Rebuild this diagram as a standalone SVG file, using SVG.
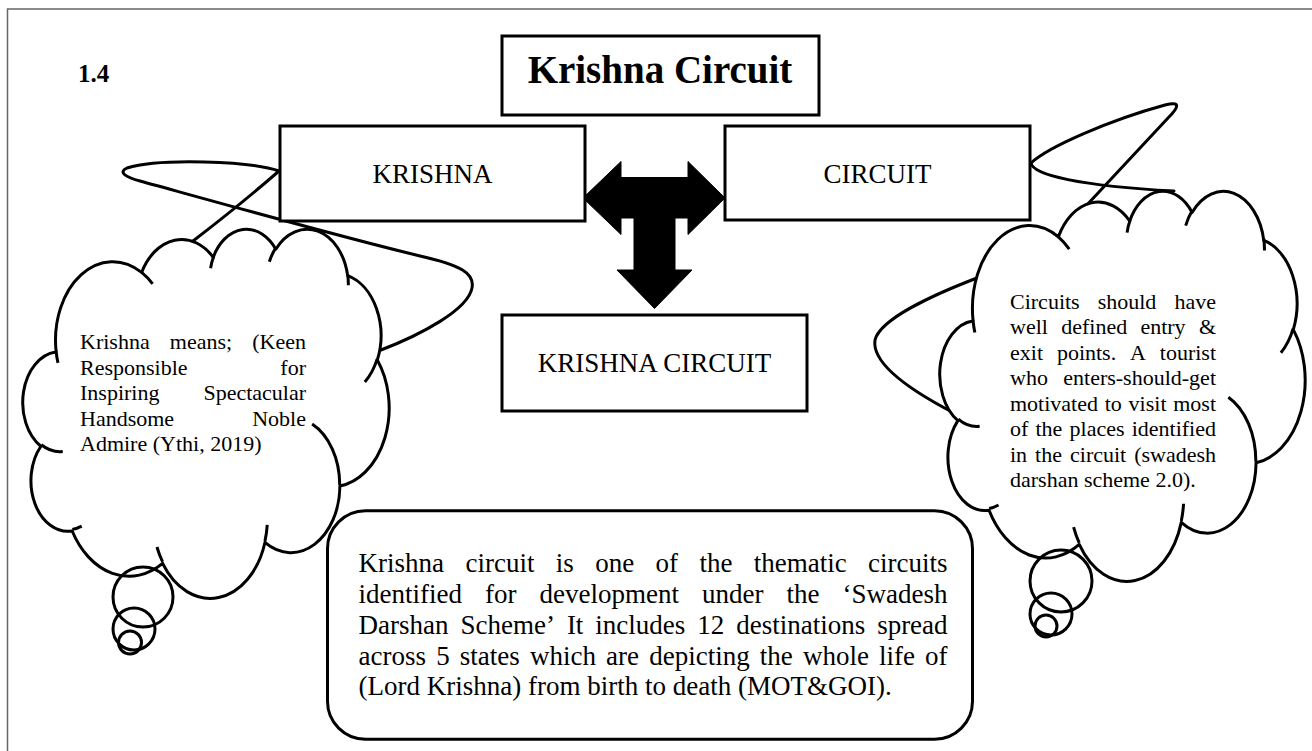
<svg xmlns="http://www.w3.org/2000/svg" xmlns:xlink="http://www.w3.org/1999/xlink" width="1312" height="751" viewBox="0 0 1312 751">
<style>
.box{fill:#fff;stroke:#000;stroke-width:3}
.t{font-family:"Liberation Serif","Times New Roman",serif;fill:#000}
.cl{fill:#fff;stroke:#000;stroke-width:3;vector-effect:non-scaling-stroke;stroke-linejoin:round}
.ci{fill:none;stroke:#000;stroke-width:3;vector-effect:non-scaling-stroke}
.bub{fill:none;stroke:#000;stroke-width:3}
.scr{fill:none;stroke:#000;stroke-width:3;stroke-linejoin:round;stroke-linecap:round}
</style>
<defs>
<path id="cloudOutline" class="cl" d="M3900,14370 A6753,9190 0 0 1 14005,5202 A5333,7267 0 0 1 22457,3433 A4365,5945 0 0 1 29834,2481 A4857,6595 0 0 1 38319,5577 A5333,7273 0 0 1 41819,15461 A6775,9220 0 0 1 37405,30204 A5785,7867 0 0 1 28556,36814 A6752,9215 0 0 1 16481,39265 A7720,10543 0 0 1 5805,35472 A4360,5918 0 0 1 2114,25550 A4345,5945 0 0 1 3864,14507 Z"/>
<path id="cloudInner" class="ci" d="M4693,26177 A4345,5945 0 0 1 2160,25380 M6928,34899 A4360,5918 0 0 1 5820,35281 M16478,39090 A6752,9215 0 0 1 15810,37350 M28827,34751 A6752,9215 0 0 1 28560,36660 M34129,22954 A5785,7867 0 0 1 37380,30090 M41798,15354 A5333,7273 0 0 1 40350,18030 M38324,5426 A4857,6595 0 0 1 38401,6690 M29078,3952 A4857,6595 0 0 1 29820,2339 M22141,4720 A4365,5945 0 0 1 22500,3330 M14000,5192 A6753,9190 0 0 1 15301,6542 M4127,15789 A6753,9190 0 0 1 3900,14371"/>
</defs>
<rect width="1312" height="751" fill="#fff"/>
<path id="frame" d="M7.5,751 V9 H1312" fill="none" stroke="#666" stroke-width="1.5"/>

<g id="connectors">
<path class="scr" d="M193,241 Q240,205 279,171 C250,161 160,158 127,168 C118,172 125,177 140,181 C220,203 330,234 420,256 C460,265 475,273 472,288 C468,310 420,335 381,350"/>
<path class="scr" d="M1057,237 L1168,118 C1180,106 1180,101 1165,105 C1110,120 1048,147 1031,163 C1033,175 1080,186 1174,191"/>
<path class="scr" d="M977,278 C930,296 880,320 875,340 C872,360 900,385 954,413"/>
<polygon id="arrow" fill="#000" stroke="#000" stroke-width="1" stroke-linejoin="round" points="583,198 621,161.5 621,177.5 688,177.5 688,161.5 725,198 688,234.5 688,218 675,218 675,270 692,270 654.5,308.5 617,270 634,270 634,218 621,218 621,234.5"/>
</g>

<g id="label-1-4"><text class="t" x="78" y="82" font-size="25" font-weight="bold">1.4</text></g>

<g id="node-title">
<rect class="box" x="502" y="36" width="317" height="79"/>
<text class="t" x="660" y="83" font-size="39" font-weight="bold" text-anchor="middle">Krishna Circuit</text>
</g>

<g id="node-krishna">
<rect class="box" x="280" y="126" width="305" height="95"/>
<text class="t" x="432.5" y="183" font-size="27" text-anchor="middle">KRISHNA</text>
</g>

<g id="node-circuit">
<rect class="box" x="725" y="126" width="305" height="94"/>
<text class="t" x="877.5" y="183" font-size="27" text-anchor="middle">CIRCUIT</text>
</g>

<g id="node-krishna-circuit">
<rect class="box" x="502" y="315" width="305" height="96"/>
<text class="t" x="654.5" y="372" font-size="27" text-anchor="middle">KRISHNA CIRCUIT</text>
</g>

<g id="cloud-left">
<g transform="translate(23,228) scale(0.0084722,0.0085417)">
<use xlink:href="#cloudOutline" href="#cloudOutline"/>
<use xlink:href="#cloudInner" href="#cloudInner"/>
</g>
<circle class="bub" cx="143" cy="597" r="30"/>
<circle class="bub" cx="134" cy="629" r="21"/>
<circle class="bub" cx="130" cy="642.5" r="11.5"/>
<g class="t" font-size="22">
<text y="349"><tspan x="80">Krishna</tspan> <tspan x="169.8">means;</tspan> <tspan x="306" text-anchor="end">(Keen</tspan></text>
<text y="374.5"><tspan x="80">Responsible</tspan> <tspan x="306" text-anchor="end">for</tspan></text>
<text y="400"><tspan x="80">Inspiring</tspan> <tspan x="306" text-anchor="end">Spectacular</tspan></text>
<text y="425.5"><tspan x="80">Handsome</tspan> <tspan x="306" text-anchor="end">Noble</tspan></text>
<text y="451" x="80">Admire (Ythi, 2019)</text>
</g>
</g>

<g id="cloud-right">
<g transform="translate(940,190) scale(0.0084491,0.0090278)">
<use xlink:href="#cloudOutline" href="#cloudOutline"/>
<use xlink:href="#cloudInner" href="#cloudInner"/>
</g>
<circle class="bub" cx="1061" cy="581" r="31"/>
<circle class="bub" cx="1051" cy="614" r="21"/>
<circle class="bub" cx="1046" cy="626" r="11"/>
<g class="t" font-size="22">
<text y="308.5"><tspan x="1010">Circuits</tspan> <tspan x="1097.7">should</tspan> <tspan x="1216" text-anchor="end">have</tspan></text>
<text y="334"><tspan x="1010">well</tspan> <tspan x="1061.2">defined</tspan> <tspan x="1140.4">entry</tspan> <tspan x="1216" text-anchor="end">&amp;</tspan></text>
<text y="359.5"><tspan x="1010">exit</tspan> <tspan x="1056.9">points.</tspan> <tspan x="1130">A</tspan> <tspan x="1216" text-anchor="end">tourist</tspan></text>
<text y="385"><tspan x="1010">who</tspan> <tspan x="1216" text-anchor="end">enters-should-get</tspan></text>
<text y="410.5"><tspan x="1010">motivated</tspan> <tspan x="1104.7">to</tspan> <tspan x="1128.6">visit</tspan> <tspan x="1216" text-anchor="end">most</tspan></text>
<text y="436"><tspan x="1010">of</tspan> <tspan x="1035.5">the</tspan> <tspan x="1069.6">places</tspan> <tspan x="1216" text-anchor="end">identified</tspan></text>
<text y="461.5"><tspan x="1010">in</tspan> <tspan x="1035.1">the</tspan> <tspan x="1070">circuit</tspan> <tspan x="1216" text-anchor="end">(swadesh</tspan></text>
<text y="487" x="1010">darshan scheme 2.0).</text>
</g>
</g>

<g id="bottom-box">
<rect class="box" x="327.5" y="510.7" width="645" height="228.6" rx="38" ry="38"/>
<g class="t" font-size="27">
<text y="572"><tspan x="358.6">Krishna</tspan> <tspan x="465.45">circuit</tspan> <tspan x="555.81">is</tspan> <tspan x="595.19">one</tspan> <tspan x="655.55">of</tspan> <tspan x="699.41">the</tspan> <tspan x="753.77">thematic</tspan> <tspan x="947.6" text-anchor="end">circuits</tspan></text>
<text y="603"><tspan x="358.6">identified</tspan> <tspan x="485.11">for</tspan> <tspan x="539.61">development</tspan> <tspan x="702.11">under</tspan> <tspan x="786.61">the</tspan> <tspan x="947.6" text-anchor="end">‘Swadesh</tspan></text>
<text y="634"><tspan x="358.6">Darshan</tspan> <tspan x="460.49">Scheme’</tspan> <tspan x="566.89">It</tspan> <tspan x="595.32">includes</tspan> <tspan x="697.24">12</tspan> <tspan x="736.17">destinations</tspan> <tspan x="947.6" text-anchor="end">spread</tspan></text>
<text y="664.5"><tspan x="358.6">across</tspan> <tspan x="436.2">5</tspan> <tspan x="459.83">states</tspan> <tspan x="529.95">which</tspan> <tspan x="606.07">are</tspan> <tspan x="649.17">depicting</tspan> <tspan x="759.79">the</tspan> <tspan x="802.91">whole</tspan> <tspan x="879.03">life</tspan> <tspan x="947.6" text-anchor="end">of</tspan></text>
<text y="695" x="358.6">(Lord Krishna) from birth to death (MOT&amp;GOI).</text>
</g>
</g>
</svg>
